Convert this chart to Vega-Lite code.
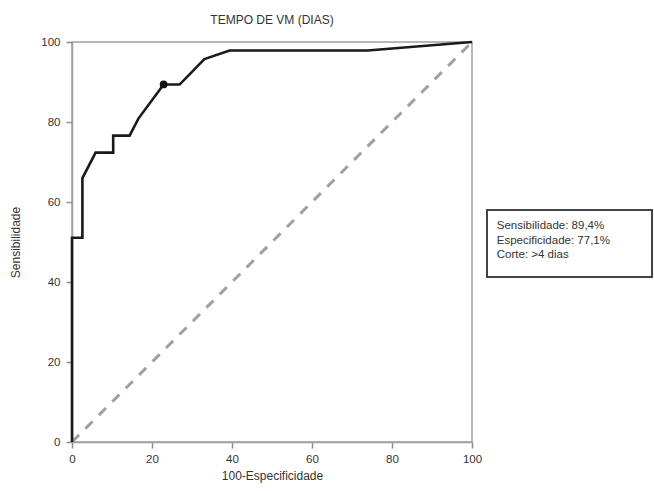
{
  "$schema": "https://vega.github.io/schema/vega-lite/v6.json",
  "width": 400,
  "height": 400,
  "autosize": {"type": "none"},
  "padding": {"left": 72, "top": 42, "right": 182, "bottom": 49},
  "title": {"text": "TEMPO DE VM (DIAS)", "fontSize": 12, "fontWeight": "normal", "color": "#333", "font": "Liberation Sans", "offset": 9},
  "config": {
    "font": "Liberation Sans",
    "view": {"stroke": "#a0a0a0", "strokeWidth": 1.5},
    "axis": {"grid": false, "domainColor": "#a0a0a0", "domainWidth": 1.5, "tickColor": "#8c8c8c", "tickWidth": 1.5, "labelColor": "#333", "labelFontSize": 11.5, "titleColor": "#333", "titleFontSize": 12, "titleFontWeight": "normal", "labelFont": "Liberation Sans", "titleFont": "Liberation Sans", "labelFlush": false, "labelOverlap": false}
  },
  "datasets": {
    "diagonal": [{"x": 0, "y": 0}, {"x": 100, "y": 100}],
    "roc": [
      {"fpr": 0, "sens": 0},
      {"fpr": 0, "sens": 51.06},
      {"fpr": 2.6, "sens": 51.06},
      {"fpr": 2.6, "sens": 65.96},
      {"fpr": 5.9, "sens": 72.34},
      {"fpr": 10.3, "sens": 72.34},
      {"fpr": 10.3, "sens": 76.6},
      {"fpr": 14.4, "sens": 76.6},
      {"fpr": 16.6, "sens": 80.85},
      {"fpr": 22.9, "sens": 89.36},
      {"fpr": 26.9, "sens": 89.36},
      {"fpr": 33.1, "sens": 95.74},
      {"fpr": 39.4, "sens": 97.87},
      {"fpr": 73.9, "sens": 97.87},
      {"fpr": 100, "sens": 100}
    ],
    "cutoff": [{"fpr": 22.9, "sens": 89.4}],
    "note": [{"text": "Sensibilidade: 89,4%\nEspecificidade: 77,1%\nCorte: >4 dias"}]
  },
  "layer": [
    {
      "data": {"name": "diagonal"},
      "mark": {"type": "line", "color": "#a0a0a0", "strokeWidth": 3, "strokeDash": [10, 9]},
      "encoding": {
        "x": {"field": "x", "type": "quantitative", "scale": {"domain": [0, 100], "nice": false},
          "axis": {"values": [0,5,10,15,20,25,30,35,40,45,50,55,60,65,70,75,80,85,90,95,100],
            "tickSize": 6,
            "labelOpacity": {"condition": {"test": "datum.value % 20 === 0", "value": 1}, "value": 0},
            "labelPadding": 5, "title": "100-Especificidade", "titlePadding": 6}},
        "y": {"field": "y", "type": "quantitative", "scale": {"domain": [0, 100], "nice": false},
          "axis": {"values": [0,5,10,15,20,25,30,35,40,45,50,55,60,65,70,75,80,85,90,95,100],
            "tickSize": 6,
            "labelOpacity": {"condition": {"test": "datum.value % 20 === 0", "value": 1}, "value": 0},
            "labelPadding": 6, "title": "Sensibilidade", "titlePadding": 18}}
      }
    },
    {
      "data": {"name": "roc"},
      "mark": {"type": "line", "color": "#1a1a1a", "strokeWidth": 2.6},
      "encoding": {
        "x": {"field": "fpr", "type": "quantitative"},
        "y": {"field": "sens", "type": "quantitative"},
        "order": {"value": null}
      }
    },
    {
      "data": {"name": "cutoff"},
      "mark": {"type": "point", "filled": true, "color": "#111", "size": 60, "opacity": 1},
      "encoding": {
        "x": {"field": "fpr", "type": "quantitative"},
        "y": {"field": "sens", "type": "quantitative"}
      }
    },
    {
      "data": {"name": "note"},
      "mark": {"type": "rect", "fill": "white", "stroke": "#444", "strokeWidth": 2},
      "encoding": {
        "x": {"datum": 103.75, "type": "quantitative"},
        "x2": {"datum": 145},
        "y": {"datum": 58, "type": "quantitative"},
        "y2": {"datum": 41.25}
      }
    },
    {
      "data": {"name": "note"},
      "mark": {"type": "text", "align": "left", "baseline": "middle", "lineBreak": "\n", "lineHeight": 14.5, "fontSize": 11.5, "color": "#333", "font": "Liberation Sans"},
      "encoding": {
        "x": {"datum": 106.2, "type": "quantitative"},
        "y": {"datum": 54, "type": "quantitative"},
        "text": {"field": "text"}
      }
    }
  ]
}
